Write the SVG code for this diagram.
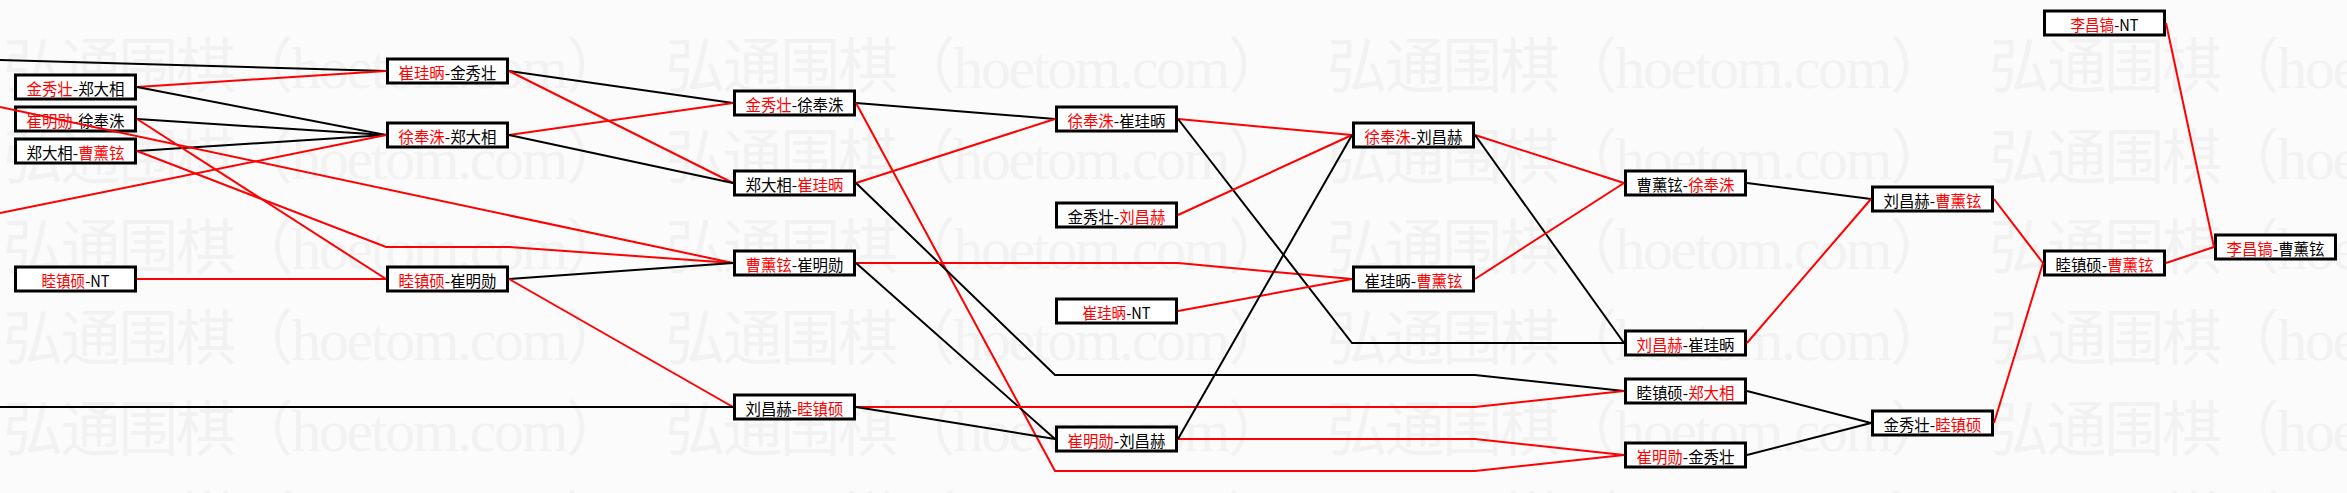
<svg xmlns="http://www.w3.org/2000/svg" width="2347" height="493" viewBox="0 0 2347 493">
<style>
.bg{fill:#fbfbfb}
.wm{font-family:"Liberation Serif","Noto Sans CJK SC",serif;font-size:60px;fill:#f2f2f2}
.box{fill:#ffffff;stroke:#000;stroke-width:3}
.lbl{font-family:"Noto Sans CJK SC","Liberation Sans",sans-serif;font-size:16px;fill:#000;text-anchor:middle;dominant-baseline:central}
.rt{fill:#f00}
.k{fill:none;stroke:#000;stroke-width:2}
.r{fill:none;stroke:#f00;stroke-width:2}
</style>
<rect class="bg" x="0" y="0" width="2347" height="493"/>
<g id="watermark">
<text class="wm" x="3" y="88" textLength="623" lengthAdjust="spacing">弘通围棋（hoetom.com）</text>
<text class="wm" x="665" y="88" textLength="623" lengthAdjust="spacing">弘通围棋（hoetom.com）</text>
<text class="wm" x="1327" y="88" textLength="623" lengthAdjust="spacing">弘通围棋（hoetom.com）</text>
<text class="wm" x="1989" y="88" textLength="623" lengthAdjust="spacing">弘通围棋（hoetom.com）</text>
<text class="wm" x="3" y="179" textLength="623" lengthAdjust="spacing">弘通围棋（hoetom.com）</text>
<text class="wm" x="665" y="179" textLength="623" lengthAdjust="spacing">弘通围棋（hoetom.com）</text>
<text class="wm" x="1327" y="179" textLength="623" lengthAdjust="spacing">弘通围棋（hoetom.com）</text>
<text class="wm" x="1989" y="179" textLength="623" lengthAdjust="spacing">弘通围棋（hoetom.com）</text>
<text class="wm" x="3" y="269" textLength="623" lengthAdjust="spacing">弘通围棋（hoetom.com）</text>
<text class="wm" x="665" y="269" textLength="623" lengthAdjust="spacing">弘通围棋（hoetom.com）</text>
<text class="wm" x="1327" y="269" textLength="623" lengthAdjust="spacing">弘通围棋（hoetom.com）</text>
<text class="wm" x="1989" y="269" textLength="623" lengthAdjust="spacing">弘通围棋（hoetom.com）</text>
<text class="wm" x="3" y="360" textLength="623" lengthAdjust="spacing">弘通围棋（hoetom.com）</text>
<text class="wm" x="665" y="360" textLength="623" lengthAdjust="spacing">弘通围棋（hoetom.com）</text>
<text class="wm" x="1327" y="360" textLength="623" lengthAdjust="spacing">弘通围棋（hoetom.com）</text>
<text class="wm" x="1989" y="360" textLength="623" lengthAdjust="spacing">弘通围棋（hoetom.com）</text>
<text class="wm" x="3" y="451" textLength="623" lengthAdjust="spacing">弘通围棋（hoetom.com）</text>
<text class="wm" x="665" y="451" textLength="623" lengthAdjust="spacing">弘通围棋（hoetom.com）</text>
<text class="wm" x="1327" y="451" textLength="623" lengthAdjust="spacing">弘通围棋（hoetom.com）</text>
<text class="wm" x="1989" y="451" textLength="623" lengthAdjust="spacing">弘通围棋（hoetom.com）</text>
<text class="wm" x="3" y="542" textLength="623" lengthAdjust="spacing">弘通围棋（hoetom.com）</text>
<text class="wm" x="665" y="542" textLength="623" lengthAdjust="spacing">弘通围棋（hoetom.com）</text>
<text class="wm" x="1327" y="542" textLength="623" lengthAdjust="spacing">弘通围棋（hoetom.com）</text>
<text class="wm" x="1989" y="542" textLength="623" lengthAdjust="spacing">弘通围棋（hoetom.com）</text>
</g>
<g id="n-a1"><rect class="box" x="15.5" y="75" width="120" height="24"/><text class="lbl" x="75.5" y="88" textLength="98" lengthAdjust="spacingAndGlyphs"><tspan class="rt">金秀壮</tspan>-郑大相</text></g>
<g id="n-a2"><rect class="box" x="15.5" y="107" width="120" height="24"/><text class="lbl" x="75.5" y="120" textLength="98" lengthAdjust="spacingAndGlyphs"><tspan class="rt">崔明勋</tspan>-徐奉洙</text></g>
<g id="n-a3"><rect class="box" x="15.5" y="139" width="120" height="24"/><text class="lbl" x="75.5" y="152" textLength="98" lengthAdjust="spacingAndGlyphs">郑大相-<tspan class="rt">曹薰铉</tspan></text></g>
<g id="n-a4"><rect class="box" x="15.5" y="267" width="120" height="24"/><text class="lbl" x="75.5" y="280" textLength="68" lengthAdjust="spacingAndGlyphs"><tspan class="rt">睦镇硕</tspan>-NT</text></g>
<g id="n-b1"><rect class="box" x="387.5" y="59" width="120" height="24"/><text class="lbl" x="447.5" y="72" textLength="98" lengthAdjust="spacingAndGlyphs"><tspan class="rt">崔珪昞</tspan>-金秀壮</text></g>
<g id="n-b2"><rect class="box" x="387.5" y="123" width="120" height="24"/><text class="lbl" x="447.5" y="136" textLength="98" lengthAdjust="spacingAndGlyphs"><tspan class="rt">徐奉洙</tspan>-郑大相</text></g>
<g id="n-b3"><rect class="box" x="387.5" y="267" width="120" height="24"/><text class="lbl" x="447.5" y="280" textLength="98" lengthAdjust="spacingAndGlyphs"><tspan class="rt">睦镇硕</tspan>-崔明勋</text></g>
<g id="n-c1"><rect class="box" x="734.5" y="91" width="120" height="24"/><text class="lbl" x="794.5" y="104" textLength="98" lengthAdjust="spacingAndGlyphs"><tspan class="rt">金秀壮</tspan>-徐奉洙</text></g>
<g id="n-c2"><rect class="box" x="734.5" y="171" width="120" height="24"/><text class="lbl" x="794.5" y="184" textLength="98" lengthAdjust="spacingAndGlyphs">郑大相-<tspan class="rt">崔珪昞</tspan></text></g>
<g id="n-c3"><rect class="box" x="734.5" y="251" width="120" height="24"/><text class="lbl" x="794.5" y="264" textLength="98" lengthAdjust="spacingAndGlyphs"><tspan class="rt">曹薰铉</tspan>-崔明勋</text></g>
<g id="n-c4"><rect class="box" x="734.5" y="395" width="120" height="24"/><text class="lbl" x="794.5" y="408" textLength="98" lengthAdjust="spacingAndGlyphs">刘昌赫-<tspan class="rt">睦镇硕</tspan></text></g>
<g id="n-d1"><rect class="box" x="1056.5" y="107" width="120" height="24"/><text class="lbl" x="1116.5" y="120" textLength="98" lengthAdjust="spacingAndGlyphs"><tspan class="rt">徐奉洙</tspan>-崔珪昞</text></g>
<g id="n-d2"><rect class="box" x="1056.5" y="203" width="120" height="24"/><text class="lbl" x="1116.5" y="216" textLength="98" lengthAdjust="spacingAndGlyphs">金秀壮-<tspan class="rt">刘昌赫</tspan></text></g>
<g id="n-d3"><rect class="box" x="1056.5" y="299" width="120" height="24"/><text class="lbl" x="1116.5" y="312" textLength="68" lengthAdjust="spacingAndGlyphs"><tspan class="rt">崔珪昞</tspan>-NT</text></g>
<g id="n-d4"><rect class="box" x="1056.5" y="427" width="120" height="24"/><text class="lbl" x="1116.5" y="440" textLength="98" lengthAdjust="spacingAndGlyphs"><tspan class="rt">崔明勋</tspan>-刘昌赫</text></g>
<g id="n-e1"><rect class="box" x="1353.5" y="123" width="120" height="24"/><text class="lbl" x="1413.5" y="136" textLength="98" lengthAdjust="spacingAndGlyphs"><tspan class="rt">徐奉洙</tspan>-刘昌赫</text></g>
<g id="n-e2"><rect class="box" x="1353.5" y="267" width="120" height="24"/><text class="lbl" x="1413.5" y="280" textLength="98" lengthAdjust="spacingAndGlyphs">崔珪昞-<tspan class="rt">曹薰铉</tspan></text></g>
<g id="n-f1"><rect class="box" x="1625.5" y="171" width="120" height="24"/><text class="lbl" x="1685.5" y="184" textLength="98" lengthAdjust="spacingAndGlyphs">曹薰铉-<tspan class="rt">徐奉洙</tspan></text></g>
<g id="n-f2"><rect class="box" x="1625.5" y="331" width="120" height="24"/><text class="lbl" x="1685.5" y="344" textLength="98" lengthAdjust="spacingAndGlyphs"><tspan class="rt">刘昌赫</tspan>-崔珪昞</text></g>
<g id="n-f3"><rect class="box" x="1625.5" y="379" width="120" height="24"/><text class="lbl" x="1685.5" y="392" textLength="98" lengthAdjust="spacingAndGlyphs">睦镇硕-<tspan class="rt">郑大相</tspan></text></g>
<g id="n-f4"><rect class="box" x="1625.5" y="443" width="120" height="24"/><text class="lbl" x="1685.5" y="456" textLength="98" lengthAdjust="spacingAndGlyphs"><tspan class="rt">崔明勋</tspan>-金秀壮</text></g>
<g id="n-g1"><rect class="box" x="1872.5" y="187" width="120" height="24"/><text class="lbl" x="1932.5" y="200" textLength="98" lengthAdjust="spacingAndGlyphs">刘昌赫-<tspan class="rt">曹薰铉</tspan></text></g>
<g id="n-g2"><rect class="box" x="1872.5" y="411" width="120" height="24"/><text class="lbl" x="1932.5" y="424" textLength="98" lengthAdjust="spacingAndGlyphs">金秀壮-<tspan class="rt">睦镇硕</tspan></text></g>
<g id="n-h0"><rect class="box" x="2044.5" y="11" width="120" height="24"/><text class="lbl" x="2104.5" y="24" textLength="68" lengthAdjust="spacingAndGlyphs"><tspan class="rt">李昌镐</tspan>-NT</text></g>
<g id="n-h1"><rect class="box" x="2044.5" y="251" width="120" height="24"/><text class="lbl" x="2104.5" y="264" textLength="98" lengthAdjust="spacingAndGlyphs">睦镇硕-<tspan class="rt">曹薰铉</tspan></text></g>
<g id="n-i1"><rect class="box" x="2215.5" y="235" width="120" height="24"/><text class="lbl" x="2275.5" y="248" textLength="98" lengthAdjust="spacingAndGlyphs"><tspan class="rt">李昌镐</tspan>-曹薰铉</text></g>
<g id="connectors">
<polyline class="k" points="0,60 386,71"/>
<polyline class="r" points="137,87 386,71"/>
<polyline class="k" points="137,87 386,135"/>
<polyline class="k" points="137,119 386,135"/>
<polyline class="k" points="137,151 386,135"/>
<polyline class="r" points="0,213 386,135"/>
<polyline class="r" points="0,107 733,263"/>
<polyline class="r" points="137,151 386,247 509,247 733,263"/>
<polyline class="r" points="137,119 386,279"/>
<polyline class="r" points="137,279 386,279"/>
<polyline class="k" points="509,71 733,103"/>
<polyline class="r" points="509,71 733,183"/>
<polyline class="r" points="509,135 733,103"/>
<polyline class="k" points="509,135 733,183"/>
<polyline class="k" points="509,279 733,263"/>
<polyline class="r" points="509,279 733,407"/>
<polyline class="k" points="0,407 733,407"/>
<polyline class="k" points="856,103 1055,119"/>
<polyline class="r" points="856,103 1055,471 1475,471 1624,455"/>
<polyline class="r" points="856,183 1055,119"/>
<polyline class="k" points="856,183 1055,375 1475,375 1624,391"/>
<polyline class="r" points="856,263 1178,263 1352,279"/>
<polyline class="k" points="856,263 1055,439"/>
<polyline class="r" points="856,407 1475,407 1624,391"/>
<polyline class="k" points="856,407 1055,439"/>
<polyline class="r" points="1178,119 1352,135"/>
<polyline class="k" points="1178,119 1352,343 1624,343"/>
<polyline class="r" points="1178,215 1352,135"/>
<polyline class="r" points="1178,311 1352,279"/>
<polyline class="r" points="1178,439 1475,439 1624,455"/>
<polyline class="k" points="1178,439 1352,135"/>
<polyline class="r" points="1475,135 1624,183"/>
<polyline class="k" points="1475,135 1624,343"/>
<polyline class="r" points="1475,279 1624,183"/>
<polyline class="k" points="1747,183 1871,199"/>
<polyline class="r" points="1747,343 1871,199"/>
<polyline class="k" points="1747,391 1871,423"/>
<polyline class="k" points="1747,455 1871,423"/>
<polyline class="r" points="1994,199 2043,263"/>
<polyline class="r" points="1994,423 2043,263"/>
<polyline class="r" points="2166,23 2214,247"/>
<polyline class="r" points="2166,263 2214,247"/>
</g>
</svg>
